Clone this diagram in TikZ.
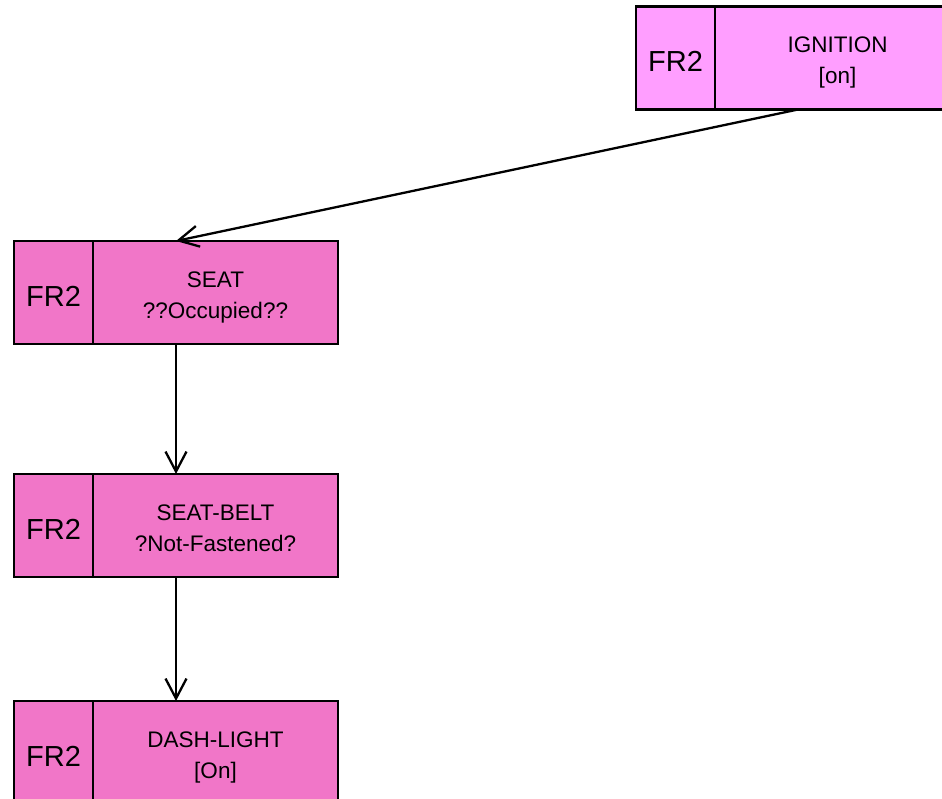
\documentclass[tikz,border=0pt]{standalone}
\usepackage{fontspec}
\setmainfont{Liberation Sans}
\usetikzlibrary{arrows.meta,positioning,calc}
\definecolor{ignpink}{RGB}{255,158,255}
\definecolor{statepink}{RGB}{241,118,200}
\tikzset{
  tag/.style={draw=black, line width=2.6pt, minimum width=79pt, minimum height=103pt,
    inner sep=0pt, outer sep=0pt, text height=27pt, text depth=0pt,
    font=\fontsize{29}{29}\selectfont},
  state/.style={draw=black, line width=2.6pt, minimum width=245pt, minimum height=103pt,
    inner sep=0pt, outer sep=0pt, align=center, text height=51pt, text depth=0pt,
    font=\fontsize{22.5}{31}\selectfont},
  flow/.style={black, line width=2.3pt, -{Straight Barb[length=20pt,width=21pt]}}
}

\begin{document}
\begin{tikzpicture}[x=1pt,y=-1pt]
\useasboundingbox (0,0) rectangle (942,798);
\node[tag, fill=ignpink] (ign) at (675.5,58) {FR2};
\node[state, fill=ignpink, right=0pt of ign] (igntxt) {IGNITION\\{[on]}};
\node[tag, fill=statepink] (seat) at (53.5,292.5) {FR2};
\node[state, fill=statepink, right=0pt of seat] (seattxt) {SEAT\\??Occupied??};
\node[tag, fill=statepink] (belt) at (53.5,525.5) {FR2};
\node[state, fill=statepink, right=0pt of belt] (belttxt) {SEAT-BELT\\?Not-Fastened?};
\node[tag, fill=statepink] (dash) at (53.5,752.5) {FR2};
\node[state, fill=statepink, right=0pt of dash] (dashtxt) {DASH-LIGHT\\{[On]}};
\draw[flow] ($(ign.south west)!0.5!(igntxt.south east)$) -- ($(seat.north west)!0.5!(seattxt.north east)$);
\draw[flow] ($(seat.south west)!0.5!(seattxt.south east)$) -- ($(belt.north west)!0.5!(belttxt.north east)$);
\draw[flow] ($(belt.south west)!0.5!(belttxt.south east)$) -- ($(dash.north west)!0.5!(dashtxt.north east)$);
\end{tikzpicture}
\end{document}
